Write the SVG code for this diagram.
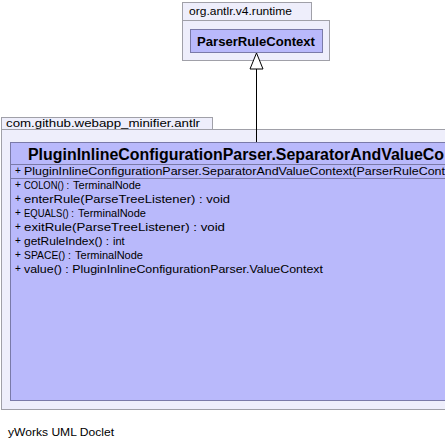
<svg xmlns="http://www.w3.org/2000/svg" width="445" height="447" viewBox="0 0 445 447">
<style>
.pkg{fill:#eeeefb;stroke:#a0a0a8;stroke-width:1}
.cls{fill:#b9b9fb;stroke:#7a7aa8;stroke-width:1}
.sep{stroke:#7a7aa8;stroke-width:1}
.t{font-family:"Liberation Sans",Arial,sans-serif;fill:#000}
.pk{font-size:11px}
.m{font-size:11px}
.p{font-size:10px}
</style>
<rect width="445" height="447" fill="#ffffff"/>
<g id="pkg-runtime">
<rect class="pkg" x="182.5" y="2.5" width="129" height="18"/>
<rect class="pkg" x="182.5" y="20.5" width="147" height="40"/>
<text class="t pk" x="189" y="15" textLength="103" lengthAdjust="spacingAndGlyphs">org.antlr.v4.runtime</text>
</g>
<g id="ParserRuleContext">
<rect class="cls" x="190.5" y="29.5" width="132" height="23"/>
<text class="t" x="197" y="45.5" font-size="12.5" font-weight="bold" textLength="118" lengthAdjust="spacingAndGlyphs">ParserRuleContext</text>
</g>
<g id="pkg-antlr">
<rect class="pkg" x="1.5" y="117.5" width="211" height="12"/>
<rect class="pkg" x="1.5" y="129.5" width="450" height="280"/>
<text class="t pk" x="6" y="127" textLength="194" lengthAdjust="spacingAndGlyphs">com.github.webapp_minifier.antlr</text>
</g>
<g id="SeparatorAndValueContext">
<rect class="cls" x="10.5" y="142.5" width="440" height="258"/>
<line class="sep" x1="10.5" y1="164.5" x2="450" y2="164.5"/>
<line class="sep" x1="10.5" y1="178.5" x2="450" y2="178.5"/>
<text class="t" x="28" y="160" font-size="16" font-weight="bold" textLength="416" lengthAdjust="spacingAndGlyphs">PluginInlineConfigurationParser.SeparatorAndValueCo</text>
<text class="t p" x="15" y="174">+</text>
<text class="t m" x="24" y="175" textLength="421" lengthAdjust="spacingAndGlyphs">PluginInlineConfigurationParser.SeparatorAndValueContext(ParserRuleCont</text>
<text class="t p" x="15" y="188">+</text>
<text class="t m" x="24" y="189" textLength="45" lengthAdjust="spacingAndGlyphs">COLON() :</text>
<text class="t m" x="73" y="189" textLength="68" lengthAdjust="spacingAndGlyphs">TerminalNode</text>
<text class="t p" x="15" y="202">+</text>
<text class="t m" x="24" y="203" textLength="206" lengthAdjust="spacingAndGlyphs">enterRule(ParseTreeListener) : void</text>
<text class="t p" x="15" y="216">+</text>
<text class="t m" x="24" y="217" textLength="50" lengthAdjust="spacingAndGlyphs">EQUALS() :</text>
<text class="t m" x="78" y="217" textLength="68" lengthAdjust="spacingAndGlyphs">TerminalNode</text>
<text class="t p" x="15" y="230">+</text>
<text class="t m" x="24" y="231" textLength="201" lengthAdjust="spacingAndGlyphs">exitRule(ParseTreeListener) : void</text>
<text class="t p" x="15" y="244">+</text>
<text class="t m" x="24" y="245" textLength="85" lengthAdjust="spacingAndGlyphs">getRuleIndex() :</text>
<text class="t m" x="113" y="245">int</text>
<text class="t p" x="15" y="258">+</text>
<text class="t m" x="24" y="259" textLength="47" lengthAdjust="spacingAndGlyphs">SPACE() :</text>
<text class="t m" x="75" y="259" textLength="68" lengthAdjust="spacingAndGlyphs">TerminalNode</text>
<text class="t p" x="15" y="272">+</text>
<text class="t m" x="24" y="273" textLength="299" lengthAdjust="spacingAndGlyphs">value() : PluginInlineConfigurationParser.ValueContext</text>
</g>
<g id="connectors">
<line x1="256.5" y1="142" x2="256.5" y2="69" stroke="#000" stroke-width="1"/>
<polygon points="256.5,53 250,69 263,69" fill="#ffffff" stroke="#000" stroke-width="1"/>
</g>
<text class="t" x="8" y="436" font-size="11.5" textLength="106" lengthAdjust="spacingAndGlyphs">yWorks UML Doclet</text>
</svg>
